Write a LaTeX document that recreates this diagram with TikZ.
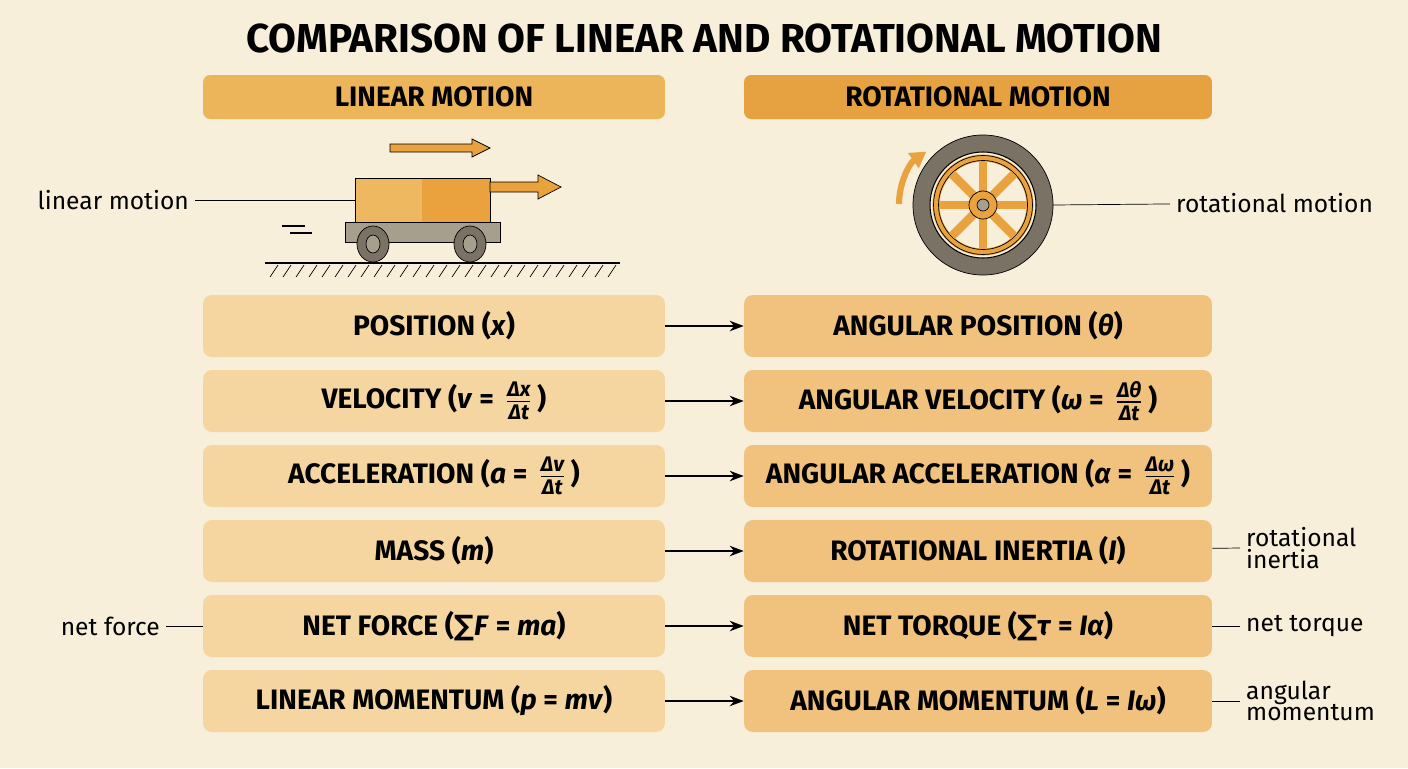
\documentclass[tikz,border=0pt]{standalone}
\usepackage{fontspec}
\usepackage{amsmath}
\usetikzlibrary{arrows.meta,calc}
\setmainfont{Fira Sans}
\newfontfamily\symfont{DejaVu Sans}
\definecolor{bg}{HTML}{F7EFDA}
\definecolor{lbox}{HTML}{F5D6A0}
\definecolor{rbox}{HTML}{F0C27E}
\definecolor{lhead}{HTML}{EDB55A}
\definecolor{rhead}{HTML}{E6A140}
\definecolor{org}{HTML}{E9A23E}
\definecolor{lorg}{HTML}{EDB860}
\definecolor{tire}{HTML}{7A7264}
\definecolor{base}{HTML}{A69F8E}
\newcommand{\fr}[2]{\,$\genfrac{}{}{0.7pt}{}{\text{\fontsize{12}{12}\selectfont\bfseries\itshape #1}}{\text{\fontsize{12}{12}\selectfont\bfseries\itshape #2}}$\,}
\newcommand{\bi}[1]{\textbf{\textit{#1}}}
\begin{document}
\begin{tikzpicture}[x=0.02cm,y=-0.02cm,
  lrow/.style={fill=lbox, rounded corners=5pt, minimum width=9.24cm, minimum height=1.24cm, font=\fontsize{16}{18}\selectfont\bfseries},
  rrow/.style={lrow, fill=rbox, minimum width=9.36cm},
  head/.style={rounded corners=4pt, minimum height=0.88cm, font=\fontsize{16}{18}\selectfont\bfseries},
  note/.style={font=\fontsize{14}{15}\selectfont, align=left},
  link/.style={-{Stealth[length=8pt,width=6pt]}, thick},
  tick/.style={thin}]
\fill[bg] (0,0) rectangle (1408,768);
\node (title) at (704,38) {\fontsize{23}{26}\selectfont\bfseries COMPARISON OF LINEAR AND ROTATIONAL MOTION};
\node[head, fill=lhead, minimum width=9.24cm] (hl) at (434,97) {LINEAR MOTION};
\node[head, fill=rhead, minimum width=9.36cm] (hr) at (978,97) {ROTATIONAL MOTION};
% rows
\node[lrow] (l1) at (434,326) {POSITION (\bi{x})};
\node[lrow] (l2) at (434,401) {VELOCITY (\bi{v} = \fr{Δx}{Δt})};
\node[lrow] (l3) at (434,476) {ACCELERATION (\bi{a} = \fr{Δv}{Δt})};
\node[lrow] (l4) at (434,551) {MASS (\bi{m})};
\node[lrow] (l5) at (434,626) {NET FORCE ({\symfont ∑}\bi{F} = \bi{ma})};
\node[lrow] (l6) at (434,701) {LINEAR MOMENTUM (\bi{p} = \bi{mv})};
\node[rrow] (r1) at (978,326) {ANGULAR POSITION (\bi{θ})};
\node[rrow] (r2) at (978,401) {ANGULAR VELOCITY (\bi{ω} = \fr{Δθ}{Δt})};
\node[rrow] (r3) at (978,476) {ANGULAR ACCELERATION (\bi{α} = \fr{Δω}{Δt})};
\node[rrow] (r4) at (978,551) {ROTATIONAL INERTIA (\bi{I})};
\node[rrow] (r5) at (978,626) {NET TORQUE ({\symfont ∑}\bi{τ} = \bi{Iα})};
\node[rrow] (r6) at (978,701) {ANGULAR MOMENTUM (\bi{L} = \bi{Iω})};
\foreach \i in {1,...,6} \draw[link] (l\i) -- (r\i);
% cart
\fill[lorg] (355,178) rectangle (422,222);
\fill[org] (422,178) rectangle (490,222);
\draw (355,178) rectangle (490,222);
\draw[fill=base] (345,222) rectangle (500,242);
\foreach \cx in {373,470}{
  \draw[fill=tire] (\cx,244) ellipse (16 and 18);
  \draw[fill=base] (\cx,244) ellipse (7 and 9);}
\draw[thick] (265,263) -- (620,263);
\foreach \hx in {270,283,...,610} \draw (\hx+8,265) -- (\hx,277);
\draw[semithick] (282,226) -- (305,226) (290,233) -- (312,233);
\draw[fill=org] (390,144) -- (472,144) -- (472,139) -- (490,148) -- (472,157) -- (472,152) -- (390,152) -- cycle;
\draw[fill=org] (490,182) -- (538,182) -- (538,175) -- (561,187) -- (538,199) -- (538,192) -- (490,192) -- cycle;
\coordinate (cart) at (355,200);
% wheel
\coordinate (hub) at (983,205);
\draw[fill=tire] (hub) circle (70);
\draw[fill=bg, line width=0.6pt] (hub) circle (53);
\draw[org, line width=4pt] (hub) circle (47);
\draw (hub) circle (49.5) (hub) circle (44.5);
\foreach \a in {0,45,...,315}
  \draw[org, line width=5pt] ($(hub)+(\a:10)$) -- ($(hub)+(\a:44)$);
\draw[fill=org] (hub) circle (14);
\draw[fill=base] (hub) circle (6);
\draw[org, line width=3.5pt, -{Triangle[length=9pt,width=10pt]}] (899,204) arc[start angle=180, end angle=235, radius=64];
% side notes
\node[note, anchor=east] (nlin) at (195,200) {linear motion};
\draw[tick] (nlin) -- (cart);
\node[note, anchor=west] (nrot) at (1170,203) {rotational motion};
\draw[tick] (1053,205) -- (nrot);
\node[note, anchor=east] (nforce) at (166,626) {net force};
\draw[tick] (nforce) -- (l5);
\node[note, anchor=west, text width=3cm] (ninert) at (1240,548) {rotational\\[-3pt]inertia};
\draw[tick] (r4) -- (ninert.west);
\node[note, anchor=west] (ntorque) at (1240,626) {net torque};
\draw[tick] (r5) -- (ntorque);
\node[note, anchor=west, text width=3cm] (nmom) at (1240,701) {angular\\[-3pt]momentum};
\draw[tick] (r6) -- (nmom.west);
\end{tikzpicture}
\end{document}
